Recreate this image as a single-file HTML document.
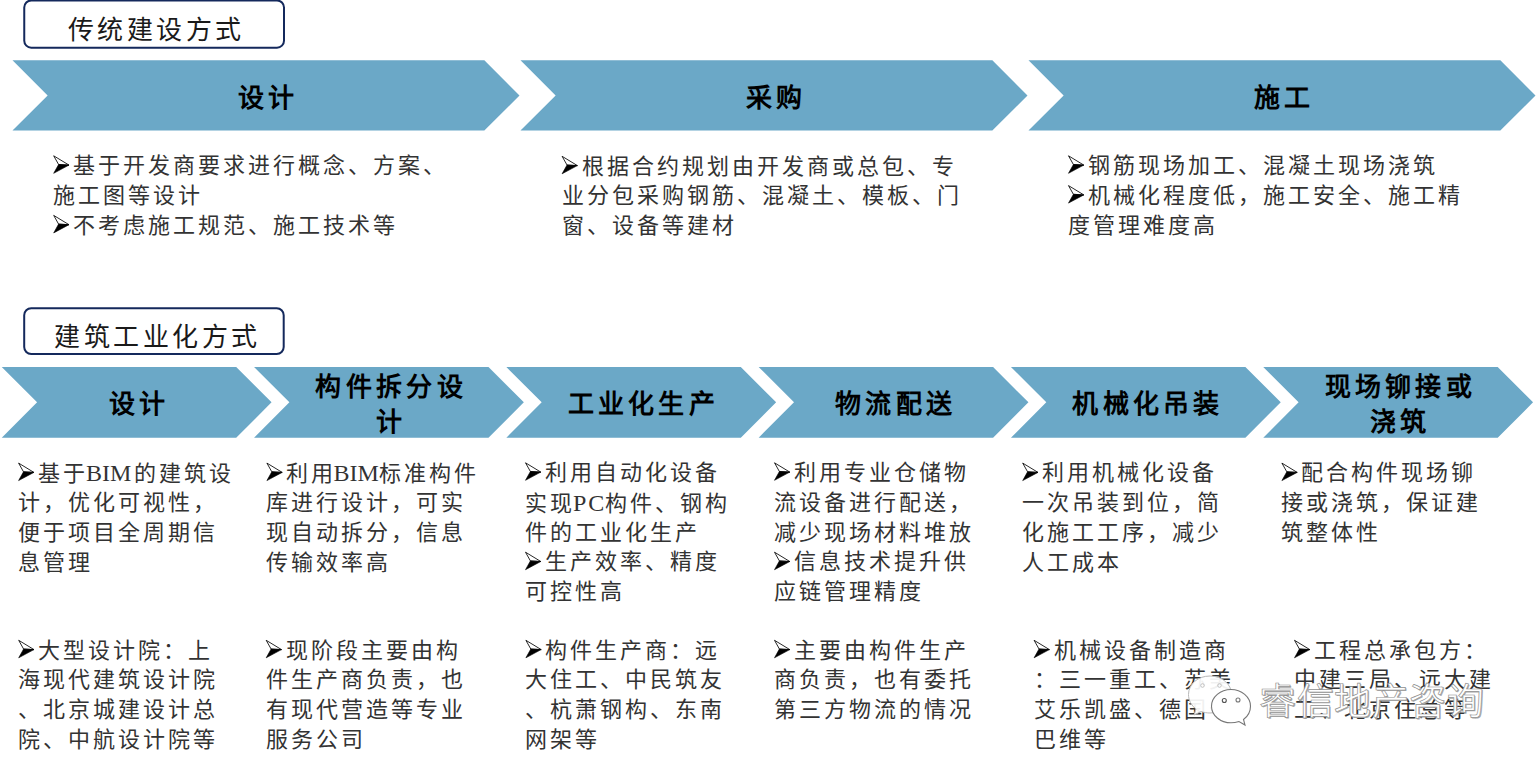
<!DOCTYPE html>
<html lang="zh-CN"><head><meta charset="utf-8"><style>
html,body{margin:0;padding:0;background:#fff;}
body{width:1536px;height:770px;overflow:hidden;position:relative;font-family:"Liberation Serif",serif;color:#000;}
svg.bg{position:absolute;left:0;top:0;}
.t{position:absolute;white-space:nowrap;color:#333;font-size:22.0px;line-height:22.0px;letter-spacing:3.0px;}
.h{position:absolute;white-space:nowrap;text-align:center;font-size:26px;line-height:35.2px;font-weight:bold;letter-spacing:4.3px;text-indent:4.3px}
.l{font-size:24px;letter-spacing:0}
.wm{position:absolute;white-space:nowrap;font-family:"Liberation Sans",sans-serif;font-size:37px;line-height:40px;letter-spacing:0.5px;color:#fff;-webkit-text-stroke:0.7px #909090;text-shadow:1.2px 1.2px 0.3px #a8a8a8;}
.bx{position:absolute;white-space:nowrap;color:#1a1a1a;font-size:26px;line-height:26px;letter-spacing:3px;}
</style></head><body>
<svg class="bg" width="1536" height="770" viewBox="0 0 1536 770">
<polygon points="12.50,60.30 484.35,60.30 519.50,95.45 484.35,130.60 12.50,130.60 47.65,95.45" fill="#6BA8C7"/>
<polygon points="520.50,60.30 992.35,60.30 1027.50,95.45 992.35,130.60 520.50,130.60 555.65,95.45" fill="#6BA8C7"/>
<polygon points="1028.50,60.30 1500.35,60.30 1535.50,95.45 1500.35,130.60 1028.50,130.60 1063.65,95.45" fill="#6BA8C7"/>
<polygon points="1.75,367.00 236.20,367.00 271.55,402.35 236.20,437.70 1.75,437.70 37.10,402.35" fill="#6BA8C7"/>
<polygon points="254.05,367.00 488.50,367.00 523.85,402.35 488.50,437.70 254.05,437.70 289.40,402.35" fill="#6BA8C7"/>
<polygon points="506.35,367.00 740.80,367.00 776.15,402.35 740.80,437.70 506.35,437.70 541.70,402.35" fill="#6BA8C7"/>
<polygon points="758.65,367.00 993.10,367.00 1028.45,402.35 993.10,437.70 758.65,437.70 794.00,402.35" fill="#6BA8C7"/>
<polygon points="1010.95,367.00 1245.40,367.00 1280.75,402.35 1245.40,437.70 1010.95,437.70 1046.30,402.35" fill="#6BA8C7"/>
<polygon points="1263.25,367.00 1497.70,367.00 1533.05,402.35 1497.70,437.70 1263.25,437.70 1298.60,402.35" fill="#6BA8C7"/>
<rect x="24.25" y="0.5" width="259.75" height="47.2" rx="7" ry="7" fill="#fff" stroke="#14295C" stroke-width="2"/>
<rect x="24.2" y="308.2" width="259.5" height="45.9" rx="7" ry="7" fill="#fff" stroke="#14295C" stroke-width="2"/>
<polygon points="53.70,155.80 69.00,165.10 58.60,164.50" fill="#fff" stroke="#000" stroke-width="0.85" stroke-linejoin="miter"/><polygon points="58.60,164.50 69.00,165.10 53.70,173.30" fill="#000" stroke="#000" stroke-width="0.6"/>
<polygon points="53.70,215.40 69.00,224.70 58.60,224.10" fill="#fff" stroke="#000" stroke-width="0.85" stroke-linejoin="miter"/><polygon points="58.60,224.10 69.00,224.70 53.70,232.90" fill="#000" stroke="#000" stroke-width="0.6"/>
<polygon points="562.10,156.30 577.40,165.60 567.00,165.00" fill="#fff" stroke="#000" stroke-width="0.85" stroke-linejoin="miter"/><polygon points="567.00,165.00 577.40,165.60 562.10,173.80" fill="#000" stroke="#000" stroke-width="0.6"/>
<polygon points="1068.50,155.80 1083.80,165.10 1073.40,164.50" fill="#fff" stroke="#000" stroke-width="0.85" stroke-linejoin="miter"/><polygon points="1073.40,164.50 1083.80,165.10 1068.50,173.30" fill="#000" stroke="#000" stroke-width="0.6"/>
<polygon points="1068.50,185.60 1083.80,194.90 1073.40,194.30" fill="#fff" stroke="#000" stroke-width="0.85" stroke-linejoin="miter"/><polygon points="1073.40,194.30 1083.80,194.90 1068.50,203.10" fill="#000" stroke="#000" stroke-width="0.6"/>
<polygon points="18.60,463.10 33.90,472.40 23.50,471.80" fill="#fff" stroke="#000" stroke-width="0.85" stroke-linejoin="miter"/><polygon points="23.50,471.80 33.90,472.40 18.60,480.60" fill="#000" stroke="#000" stroke-width="0.6"/>
<polygon points="266.90,463.10 282.20,472.40 271.80,471.80" fill="#fff" stroke="#000" stroke-width="0.85" stroke-linejoin="miter"/><polygon points="271.80,471.80 282.20,472.40 266.90,480.60" fill="#000" stroke="#000" stroke-width="0.6"/>
<polygon points="525.50,462.80 540.80,472.10 530.40,471.50" fill="#fff" stroke="#000" stroke-width="0.85" stroke-linejoin="miter"/><polygon points="530.40,471.50 540.80,472.10 525.50,480.30" fill="#000" stroke="#000" stroke-width="0.6"/>
<polygon points="525.50,552.20 540.80,561.50 530.40,560.90" fill="#fff" stroke="#000" stroke-width="0.85" stroke-linejoin="miter"/><polygon points="530.40,560.90 540.80,561.50 525.50,569.70" fill="#000" stroke="#000" stroke-width="0.6"/>
<polygon points="774.50,462.80 789.80,472.10 779.40,471.50" fill="#fff" stroke="#000" stroke-width="0.85" stroke-linejoin="miter"/><polygon points="779.40,471.50 789.80,472.10 774.50,480.30" fill="#000" stroke="#000" stroke-width="0.6"/>
<polygon points="774.50,552.20 789.80,561.50 779.40,560.90" fill="#fff" stroke="#000" stroke-width="0.85" stroke-linejoin="miter"/><polygon points="779.40,560.90 789.80,561.50 774.50,569.70" fill="#000" stroke="#000" stroke-width="0.6"/>
<polygon points="1022.70,463.10 1038.00,472.40 1027.60,471.80" fill="#fff" stroke="#000" stroke-width="0.85" stroke-linejoin="miter"/><polygon points="1027.60,471.80 1038.00,472.40 1022.70,480.60" fill="#000" stroke="#000" stroke-width="0.6"/>
<polygon points="1281.90,463.10 1297.20,472.40 1286.80,471.80" fill="#fff" stroke="#000" stroke-width="0.85" stroke-linejoin="miter"/><polygon points="1286.80,471.80 1297.20,472.40 1281.90,480.60" fill="#000" stroke="#000" stroke-width="0.6"/>
<polygon points="18.70,640.30 34.00,649.60 23.60,649.00" fill="#fff" stroke="#000" stroke-width="0.85" stroke-linejoin="miter"/><polygon points="23.60,649.00 34.00,649.60 18.70,657.80" fill="#000" stroke="#000" stroke-width="0.6"/>
<polygon points="266.20,640.30 281.50,649.60 271.10,649.00" fill="#fff" stroke="#000" stroke-width="0.85" stroke-linejoin="miter"/><polygon points="271.10,649.00 281.50,649.60 266.20,657.80" fill="#000" stroke="#000" stroke-width="0.6"/>
<polygon points="525.90,640.30 541.20,649.60 530.80,649.00" fill="#fff" stroke="#000" stroke-width="0.85" stroke-linejoin="miter"/><polygon points="530.80,649.00 541.20,649.60 525.90,657.80" fill="#000" stroke="#000" stroke-width="0.6"/>
<polygon points="774.50,640.30 789.80,649.60 779.40,649.00" fill="#fff" stroke="#000" stroke-width="0.85" stroke-linejoin="miter"/><polygon points="779.40,649.00 789.80,649.60 774.50,657.80" fill="#000" stroke="#000" stroke-width="0.6"/>
<polygon points="1034.10,640.30 1049.40,649.60 1039.00,649.00" fill="#fff" stroke="#000" stroke-width="0.85" stroke-linejoin="miter"/><polygon points="1039.00,649.00 1049.40,649.60 1034.10,657.80" fill="#000" stroke="#000" stroke-width="0.6"/>
<polygon points="1294.50,640.30 1309.80,649.60 1299.40,649.00" fill="#fff" stroke="#000" stroke-width="0.85" stroke-linejoin="miter"/><polygon points="1299.40,649.00 1309.80,649.60 1294.50,657.80" fill="#000" stroke="#000" stroke-width="0.6"/>
</svg>
<div class="t" style="left:73.2px;top:155.0px">基于开发商要求进行概念、方案、</div>
<div class="t" style="left:53.2px;top:184.8px">施工图等设计</div>
<div class="t" style="left:73.2px;top:214.6px">不考虑施工规范、施工技术等</div>
<div class="t" style="left:581.6px;top:155.5px">根据合约规划由开发商或总包、专</div>
<div class="t" style="left:561.6px;top:185.3px">业分包采购钢筋、混凝土、模板、门</div>
<div class="t" style="left:561.6px;top:215.1px">窗、设备等建材</div>
<div class="t" style="left:1088.0px;top:155.0px">钢筋现场加工、混凝土现场浇筑</div>
<div class="t" style="left:1088.0px;top:184.8px">机械化程度低，施工安全、施工精</div>
<div class="t" style="left:1068.0px;top:214.6px">度管理难度高</div>
<div class="t" style="left:38.1px;top:462.3px">基于<span class="l" style="margin-left:-2px;margin-right:3px">BIM</span>的建筑设</div>
<div class="t" style="left:18.1px;top:492.1px">计，优化可视性，</div>
<div class="t" style="left:18.1px;top:521.9px">便于项目全周期信</div>
<div class="t" style="left:18.1px;top:551.7px">息管理</div>
<div class="t" style="left:286.4px;top:462.3px">利用<span class="l" style="margin-left:-3px;margin-right:0px">BIM</span>标准构件</div>
<div class="t" style="left:266.4px;top:492.1px">库进行设计，可实</div>
<div class="t" style="left:266.4px;top:521.9px">现自动拆分，信息</div>
<div class="t" style="left:266.4px;top:551.7px">传输效率高</div>
<div class="t" style="left:545.0px;top:462.0px">利用自动化设备</div>
<div class="t" style="left:525.0px;top:491.8px">实现<span class="l" style="margin-left:-2px;margin-right:-1px;letter-spacing:2px">PC</span>构件、钢构</div>
<div class="t" style="left:525.0px;top:521.6px">件的工业化生产</div>
<div class="t" style="left:545.0px;top:551.4px">生产效率、精度</div>
<div class="t" style="left:525.0px;top:581.2px">可控性高</div>
<div class="t" style="left:794.0px;top:462.0px">利用专业仓储物</div>
<div class="t" style="left:774.0px;top:491.8px">流设备进行配送，</div>
<div class="t" style="left:774.0px;top:521.6px">减少现场材料堆放</div>
<div class="t" style="left:794.0px;top:551.4px">信息技术提升供</div>
<div class="t" style="left:774.0px;top:581.2px">应链管理精度</div>
<div class="t" style="left:1042.2px;top:462.3px">利用机械化设备</div>
<div class="t" style="left:1022.2px;top:492.1px">一次吊装到位，简</div>
<div class="t" style="left:1022.2px;top:521.9px">化施工工序，减少</div>
<div class="t" style="left:1022.2px;top:551.7px">人工成本</div>
<div class="t" style="left:1301.4px;top:462.3px">配合构件现场铆</div>
<div class="t" style="left:1281.4px;top:492.1px">接或浇筑，保证建</div>
<div class="t" style="left:1281.4px;top:521.9px">筑整体性</div>
<div class="t" style="left:38.2px;top:639.5px">大型设计院：上</div>
<div class="t" style="left:18.2px;top:669.3px">海现代建筑设计院</div>
<div class="t" style="left:18.2px;top:699.1px">、北京城建设计总</div>
<div class="t" style="left:18.2px;top:728.9px">院、中航设计院等</div>
<div class="t" style="left:285.7px;top:639.5px">现阶段主要由构</div>
<div class="t" style="left:265.7px;top:669.3px">件生产商负责，也</div>
<div class="t" style="left:265.7px;top:699.1px">有现代营造等专业</div>
<div class="t" style="left:265.7px;top:728.9px">服务公司</div>
<div class="t" style="left:545.4px;top:639.5px">构件生产商：远</div>
<div class="t" style="left:525.4px;top:669.3px">大住工、中民筑友</div>
<div class="t" style="left:525.4px;top:699.1px">、杭萧钢构、东南</div>
<div class="t" style="left:525.4px;top:728.9px">网架等</div>
<div class="t" style="left:794.0px;top:639.5px">主要由构件生产</div>
<div class="t" style="left:774.0px;top:669.3px">商负责，也有委托</div>
<div class="t" style="left:774.0px;top:699.1px">第三方物流的情况</div>
<div class="t" style="left:1053.6px;top:639.5px">机械设备制造商</div>
<div class="t" style="left:1033.6px;top:669.3px">：三一重工、苏美</div>
<div class="t" style="left:1033.6px;top:699.1px">艾乐凯盛、德国卡</div>
<div class="t" style="left:1033.6px;top:728.9px">巴维等</div>
<div class="t" style="left:1314.0px;top:639.5px">工程总承包方：</div>
<div class="t" style="left:1294.0px;top:669.3px">中建三局、远大建</div>
<div class="t" style="left:1294.0px;top:699.1px">工、北京住总等</div>
<div class="h" style="left:266.0px;top:80.6px;width:300px;margin-left:-150px">设计</div>
<div class="h" style="left:774.0px;top:80.6px;width:300px;margin-left:-150px">采购</div>
<div class="h" style="left:1282.0px;top:80.6px;width:300px;margin-left:-150px">施工</div>
<div class="h" style="left:136.7px;top:387.4px;width:300px;margin-left:-150px">设计</div>
<div class="h" style="left:389.0px;top:369.9px;width:300px;margin-left:-150px">构件拆分设</div>
<div class="h" style="left:389.0px;top:405.1px;width:300px;margin-left:-150px">计</div>
<div class="h" style="left:641.2px;top:387.4px;width:300px;margin-left:-150px">工业化生产</div>
<div class="h" style="left:893.6px;top:387.4px;width:300px;margin-left:-150px">物流配送</div>
<div class="h" style="left:1145.9px;top:387.4px;width:300px;margin-left:-150px">机械化吊装</div>
<div class="h" style="left:1398.2px;top:369.9px;width:300px;margin-left:-150px">现场铆接或</div>
<div class="h" style="left:1398.2px;top:405.1px;width:300px;margin-left:-150px">浇筑</div>
<svg style="position:absolute;left:0;top:0" width="1536" height="770" viewBox="0 0 1536 770">
<g fill="#fff" fill-opacity="0.93" stroke="#b8b8b8" stroke-width="1">
<path d="M1210,676 C1198,676 1188.5,684 1188.5,694.5 C1188.5,700.5 1191.5,705.5 1196,709 L1194,715 L1201,711.5 C1204,712.5 1207,713 1210,713 C1222,713 1231.5,704.5 1231.5,694.5 C1231.5,684 1222,676 1210,676 Z"/>
</g>
<circle cx="1202.5" cy="685.5" r="1.8" fill="none" stroke="#bbb" stroke-width="0.9"/>
<circle cx="1219.5" cy="685.5" r="1.8" fill="none" stroke="#bbb" stroke-width="0.9"/>
<path d="M1231,689.5 C1220.5,689.5 1211.5,697 1211.5,706.2 C1211.5,715.5 1220.5,722.8 1231,722.8 C1234,722.8 1236.5,722.3 1239,721.5 L1245,725 L1243.5,719.5 C1247.5,716.5 1250.5,711.8 1250.5,706.2 C1250.5,697 1241.5,689.5 1231,689.5 Z" fill="#fff" stroke="#777" stroke-width="1.1"/>
<circle cx="1224.3" cy="700.5" r="2" fill="#fff" stroke="#555" stroke-width="1.1"/>
<circle cx="1238" cy="700" r="2" fill="#fff" stroke="#777" stroke-width="1.1"/>
</svg>
<div class="wm" style="left:1259px;top:683px">睿信地产咨询</div>
<div class="bx" style="left:68px;top:18px;letter-spacing:3.4px">传统建设方式</div>
<div class="bx" style="left:54px;top:325px;letter-spacing:3.5px">建筑工业化方式</div>
</body></html>
